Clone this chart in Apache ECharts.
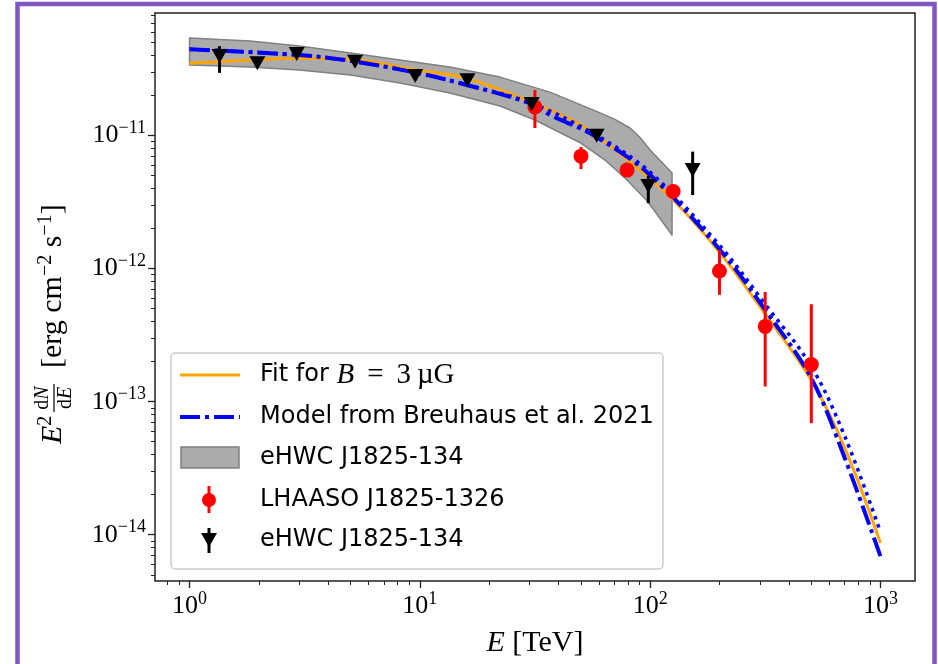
<!DOCTYPE html>
<html><head><meta charset="utf-8">
<script src="https://cdn.jsdelivr.net/npm/echarts@6/dist/echarts.min.js"></script>
<style>html,body{margin:0;padding:0;background:#fff}#c{width:938px;height:664px}</style>
</head><body><div id="c"></div>
<script>
// ---- data ----
const fitE = [1, 1.83, 2.92, 4.97, 9.7, 16, 30, 50, 80, 126, 200, 316, 500, 700, 1000];
const fitF = [3.49e-11, 3.7e-11, 3.81e-11, 3.74e-11, 3.11e-11, 2.69e-11, 1.8e-11, 1.2e-11, 6.55e-12, 3.28e-12, 1.33e-12, 4.56e-13, 1.46e-13, 4.49e-14, 8.67e-15];
const modelE = [1, 3, 4.97, 9.7, 16, 30, 36.7, 57, 100, 200, 316, 500, 700, 1000];
const modelF = [4.45e-11, 4.03e-11, 3.65e-11, 2.96e-11, 2.4e-11, 1.75e-11, 1.43e-11, 1.0e-11, 5.05e-12, 1.4e-12, 4.89e-13, 1.51e-13, 3.77e-14, 6.9e-15];
const dotE = [1, 3, 4.97, 9.7, 16, 30, 57, 100, 200, 316, 500, 700, 1000];
const dotF = [4.45e-11, 4.03e-11, 3.65e-11, 2.96e-11, 2.4e-11, 1.77e-11, 1.03e-11, 5.3e-12, 1.5e-12, 5.4e-13, 1.85e-13, 5.5e-14, 1.05e-14];
const bandHiE = [1, 1.83, 3, 5, 8.2, 13.5, 22.3, 36.7, 50, 60.6, 70, 81.8, 90, 100, 124.5];
const bandHi = [5.41e-11, 5.14e-11, 4.71e-11, 4.17e-11, 3.7e-11, 3.27e-11, 2.75e-11, 2.12e-11, 1.7e-11, 1.48e-11, 1.33e-11, 1.14e-11, 9.75e-12, 7.78e-12, 5.23e-12];
const bandLoE = [1, 1.83, 3, 5, 8.2, 13.5, 22.3, 31.6, 50, 63.7, 79.4, 98, 124.5];
const bandLo = [3.39e-11, 3.27e-11, 3.11e-11, 2.85e-11, 2.48e-11, 2.09e-11, 1.67e-11, 1.31e-11, 8.79e-12, 6.55e-12, 4.63e-12, 3.17e-12, 1.79e-12];
const lhaasoE = [31.6, 50.1, 79.4, 125.9, 200, 316, 501];
const lhaasoF = [1.64e-11, 7.0e-12, 5.5e-12, 3.8e-12, 9.6e-13, 3.68e-13, 1.9e-13];
const lhaasoLo = [1.14e-11, 5.6e-12, 5.2e-12, 3.6e-12, 6.35e-13, 1.3e-13, 6.9e-14];
const lhaasoHi = [2.2e-11, 8.2e-12, 5.8e-12, 4.0e-12, 1.38e-12, 6.67e-13, 5.4e-13];
const hawcE = [1.35, 1.97, 2.92, 5.23, 9.55, 16.1, 30.6, 58.6, 98.2, 153];
const hawcF = [3.96e-11, 3.49e-11, 4.1e-11, 3.59e-11, 2.8e-11, 2.6e-11, 1.73e-11, 9.96e-12, 4.18e-12, 5.5e-12];
const hawcLo = [2.96e-11, 3.3e-11, 3.9e-11, 3.4e-11, 2.65e-11, 2.45e-11, 1.6e-11, 9.3e-12, 3.1e-12, 3.57e-12];
const hawcHi = [4.7e-11, 3.7e-11, 4.3e-11, 3.8e-11, 2.95e-11, 2.75e-11, 1.86e-11, 1.07e-11, 5.0e-12, 7.57e-12];
const xMajor = [1, 10, 100, 1000];
const yMajor = [1e-14, 1e-13, 1e-12, 1e-11];

// ---- helpers ----
function minorTicks(lo, hi) {
  const out = [];
  for (let d = Math.floor(Math.log10(lo)); d <= Math.ceil(Math.log10(hi)); d++) {
    for (let m = 2; m <= 9; m++) { const v = m * Math.pow(10, d); if (v > lo && v < hi) out.push(v); }
  }
  return out;
}
const zip = (a, b) => a.map((v, i) => [v, b[i]]);
const SERIF = 'Liberation Serif';
const SANS = 'DejaVu Sans';
const X0 = 0.708, X1 = 1413, Y0 = 4.49e-15, Y1 = 8.34e-11;
const expLabel = v => { const e = Math.round(Math.log10(v)); return '10{s|' + (e < 0 ? '\u2212' + (-e) : e) + '}'; };
const tickRich = { s: { fontFamily: SERIF, fontSize: 18, verticalAlign: 'top', padding: [0, 0, 14, 0], color: '#000' } };

const chart = echarts.init(document.getElementById('c'), null, { renderer: 'canvas' });

function errItem(params, api, color) {
  const p1 = api.coord([api.value(0), api.value(1)]);
  const p2 = api.coord([api.value(0), api.value(2)]);
  return { type: 'line', shape: { x1: p1[0], y1: p1[1], x2: p2[0], y2: p2[1] }, style: { stroke: color, lineWidth: 3 } };
}

const option = {
  animation: false,
  backgroundColor: '#fff',
  grid: { left: 155, top: 13, width: 760, height: 568, show: true, borderColor: '#222', borderWidth: 1.5, backgroundColor: 'transparent' },
  xAxis: [{
    type: 'log', logBase: 10, min: X0, max: X1,
    axisLine: { show: false }, splitLine: { show: false },
    axisTick: { show: true, customValues: xMajor, length: 7, lineStyle: { color: '#222', width: 1.3 } },
    axisLabel: { customValues: xMajor, formatter: expLabel, fontFamily: SERIF, fontSize: 26, color: '#000', margin: 9, rich: tickRich },
    name: '{i|E} [TeV]', nameLocation: 'middle', nameGap: 47,
    nameTextStyle: { fontFamily: SERIF, fontSize: 30, color: '#000', rich: { i: { fontFamily: SERIF, fontStyle: 'italic', fontSize: 30, color: '#000' } } }
  }, {
    type: 'log', logBase: 10, min: X0, max: X1, position: 'bottom', gridIndex: 0,
    axisLine: { show: false }, splitLine: { show: false },
    axisTick: { show: true, customValues: minorTicks(X0, X1), length: 4, lineStyle: { color: '#222', width: 1 } },
    axisLabel: { show: false }
  }],
  yAxis: [{
    type: 'log', logBase: 10, min: Y0, max: Y1,
    axisLine: { show: false }, splitLine: { show: false },
    axisTick: { show: true, customValues: yMajor, length: 7, lineStyle: { color: '#222', width: 1.3 } },
    axisLabel: { customValues: yMajor, formatter: expLabel, fontFamily: SERIF, fontSize: 26, color: '#000', margin: 9, rich: tickRich }
  }, {
    type: 'log', logBase: 10, min: Y0, max: Y1, position: 'left', gridIndex: 0,
    axisLine: { show: false }, splitLine: { show: false },
    axisTick: { show: true, customValues: minorTicks(Y0, Y1), length: 4, lineStyle: { color: '#222', width: 1 } },
    axisLabel: { show: false }
  }],
  series: [
    { type: 'custom', name: 'band', z: 1, data: [[1, 1e-12]],
      renderItem: (params, api) => {
        const pts = bandHiE.map((e, i) => api.coord([e, bandHi[i]]));
        for (let i = bandLoE.length - 1; i >= 0; i--) pts.push(api.coord([bandLoE[i], bandLo[i]]));
        return { type: 'polygon', shape: { points: pts }, style: { fill: '#ababab', stroke: '#808080', lineWidth: 1.5, lineJoin: 'round' } };
      } },
    { type: 'line', name: 'fit', z: 2, data: zip(fitE, fitF), smooth: 0.35, symbol: 'none', lineStyle: { color: '#FFA500', width: 3 } },
    { type: 'line', name: 'dot', z: 3, data: zip(dotE, dotF), smooth: 0.35, symbol: 'none', lineStyle: { color: '#0000FF', width: 3.5, type: [3.5, 5] } },
    { type: 'line', name: 'model', z: 4, data: zip(modelE, modelF), smooth: 0.35, symbol: 'none', lineStyle: { color: '#0000FF', width: 4, type: [20, 5, 4, 5] } },
    { type: 'custom', name: 'lhaasoErr', z: 5, data: lhaasoE.map((e, i) => [e, lhaasoLo[i], lhaasoHi[i]]),
      encode: { x: 0, y: [1, 2] }, renderItem: (p, api) => errItem(p, api, '#FF0000') },
    { type: 'scatter', name: 'lhaaso', z: 6, data: zip(lhaasoE, lhaasoF), symbol: 'circle', symbolSize: 15, itemStyle: { color: '#FF0000', opacity: 1 } },
    { type: 'custom', name: 'hawcErr', z: 7, data: hawcE.map((e, i) => [e, hawcLo[i], hawcHi[i]]),
      encode: { x: 0, y: [1, 2] }, renderItem: (p, api) => errItem(p, api, '#000000') },
    { type: 'scatter', name: 'hawc', z: 8, data: zip(hawcE, hawcF), symbol: 'triangle', symbolRotate: 180, symbolSize: [16, 14], itemStyle: { color: '#000', opacity: 1 } }
  ],
  graphic: [
    { type: 'rect', z: 100, shape: { x: 17.5, y: 4, width: 917, height: 700 }, style: { fill: 'none', stroke: '#7E57C2', lineWidth: 4.5 } },
    // y-axis title (rotated)
    { type: 'group', z: 100, x: 53, y: 444, rotation: Math.PI / 2, children: [
      { type: 'text', x: 0, y: 0, style: { text: '{i|E}{s|2}', fill: '#000', verticalAlign: 'middle', rich: { i: { fontFamily: SERIF, fontStyle: 'italic', fontSize: 30 }, s: { fontFamily: SERIF, fontSize: 20, verticalAlign: 'top', padding: [0, 0, 14, 0] } } } },
      { type: 'text', x: 46, y: -10, style: { text: 'd{i|N}', align: 'center', verticalAlign: 'middle', fill: '#000', font: '20px ' + SERIF, rich: { i: { fontFamily: SERIF, fontStyle: 'italic', fontSize: 20 } } } },
      { type: 'line', shape: { x1: 32, y1: 1, x2: 60, y2: 1 }, style: { stroke: '#000', lineWidth: 1.2 } },
      { type: 'text', x: 46, y: 13, style: { text: 'd{i|E}', align: 'center', verticalAlign: 'middle', fill: '#000', font: '20px ' + SERIF, rich: { i: { fontFamily: SERIF, fontStyle: 'italic', fontSize: 20 } } } },
      { type: 'text', x: 76, y: 0, style: { text: '[erg cm{s|\u22122} s{s|\u22121}]', fill: '#000', verticalAlign: 'middle', font: '30px ' + SERIF, rich: { s: { fontFamily: SERIF, fontSize: 20, verticalAlign: 'top', padding: [0, 0, 14, 0] } } } }
    ] },
    // legend
    { type: 'group', z: 100, children: [
      { type: 'rect', shape: { x: 171, y: 353, width: 492, height: 216, r: 4 }, style: { fill: 'rgba(255,255,255,0.85)', stroke: '#cccccc', lineWidth: 1.5 } },
      { type: 'line', shape: { x1: 180, y1: 375, x2: 240, y2: 375 }, style: { stroke: '#FFA500', lineWidth: 3 } },
      { type: 'line', shape: { x1: 180, y1: 417, x2: 240, y2: 417 }, style: { stroke: '#0000FF', lineWidth: 4, lineDash: [20, 5, 4, 5] } },
      { type: 'rect', shape: { x: 181, y: 447, width: 58, height: 21 }, style: { fill: '#ababab', stroke: '#808080', lineWidth: 1.5 } },
      { type: 'line', shape: { x1: 209, y1: 486, x2: 209, y2: 513 }, style: { stroke: '#FF0000', lineWidth: 3 } },
      { type: 'circle', shape: { cx: 209, cy: 500, r: 7 }, style: { fill: '#FF0000' } },
      { type: 'line', shape: { x1: 209, y1: 528, x2: 209, y2: 553 }, style: { stroke: '#000', lineWidth: 3 } },
      { type: 'polygon', shape: { points: [[201, 533], [217, 533], [209, 547]] }, style: { fill: '#000' } },
      { type: 'text', x: 260, y: 375, style: { text: 'Fit for {i|B}{m|\u2009 = \u20093\u2009\u00b5G}', verticalAlign: 'middle', fill: '#000', font: '24px ' + SANS, rich: { i: { fontFamily: SERIF, fontStyle: 'italic', fontSize: 29 }, m: { fontFamily: SERIF, fontSize: 29 } } } },
      { type: 'text', x: 260, y: 417, style: { text: 'Model from Breuhaus et al. 2021', verticalAlign: 'middle', fill: '#000', font: '24px ' + SANS } },
      { type: 'text', x: 260, y: 458, style: { text: 'eHWC J1825-134', verticalAlign: 'middle', fill: '#000', font: '24px ' + SANS } },
      { type: 'text', x: 260, y: 500, style: { text: 'LHAASO J1825-1326', verticalAlign: 'middle', fill: '#000', font: '24px ' + SANS } },
      { type: 'text', x: 260, y: 540, style: { text: 'eHWC J1825-134', verticalAlign: 'middle', fill: '#000', font: '24px ' + SANS } }
    ] }
  ]
};
chart.setOption(option);
</script></body></html>
